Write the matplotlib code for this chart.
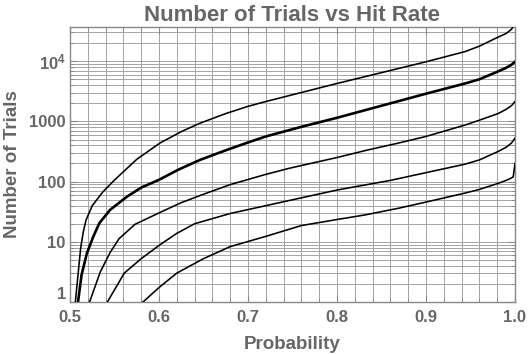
import matplotlib
matplotlib.use("Agg")
import matplotlib.pyplot as plt
from matplotlib.ticker import FixedLocator, FixedFormatter, NullFormatter
import numpy as np

# ---- data (p, log10 of number of trials) ----
p1 = [0.506, 0.509, 0.512, 0.515, 0.518, 0.525, 0.537, 0.551, 0.575, 0.601, 0.625, 0.646, 0.675,
      0.700, 0.720, 0.760, 0.800, 0.850, 0.900, 0.944, 0.960, 0.981, 0.990, 0.996, 1.0]
l1 = [0.00, 0.45, 0.90, 1.17, 1.36, 1.60, 1.83, 2.04, 2.37, 2.64, 2.83, 2.97, 3.13,
      3.25, 3.33, 3.48, 3.63, 3.81, 3.99, 4.16, 4.25, 4.40, 4.46, 4.53, 4.62]

p2 = [0.509, 0.513, 0.519, 0.526, 0.533, 0.545, 0.564, 0.580, 0.600, 0.622, 0.646, 0.675, 0.700,
      0.720, 0.760, 0.800, 0.850, 0.900, 0.944, 0.960, 0.981, 0.990, 0.996, 1.0]
l2 = [0.00, 0.45, 0.81, 1.08, 1.31, 1.53, 1.75, 1.90, 2.03, 2.20, 2.36, 2.52, 2.65,
      2.75, 2.91, 3.06, 3.26, 3.46, 3.63, 3.70, 3.83, 3.89, 3.94, 3.99]

p3 = [0.522, 0.534, 0.545, 0.555, 0.573, 0.600, 0.625, 0.650, 0.680, 0.720, 0.746, 0.800, 0.833,
      0.869, 0.900, 0.944, 0.960, 0.981, 0.990, 0.996, 1.0]
l3 = [0.00, 0.50, 0.82, 1.05, 1.29, 1.48, 1.65, 1.79, 1.95, 2.12, 2.22, 2.40, 2.52,
      2.64, 2.75, 2.94, 3.02, 3.13, 3.20, 3.26, 3.33]

p4 = [0.542, 0.561, 0.580, 0.601, 0.620, 0.640, 0.680, 0.720, 0.746, 0.800, 0.860, 0.888, 0.944,
      0.960, 0.981, 0.990, 0.996, 1.0]
l4 = [0.00, 0.48, 0.72, 0.95, 1.14, 1.30, 1.47, 1.60, 1.685, 1.86, 2.02, 2.11, 2.29,
      2.36, 2.50, 2.57, 2.64, 2.72]

p5 = [0.582, 0.600, 0.620, 0.650, 0.680, 0.720, 0.760, 0.800, 0.831, 0.870, 0.900, 0.944, 0.960,
      0.981, 0.990, 0.996, 0.998, 1.0]
l5 = [0.00, 0.24, 0.48, 0.72, 0.92, 1.09, 1.27, 1.37, 1.445, 1.56, 1.66, 1.81, 1.87,
      1.97, 2.02, 2.06, 2.08, 2.30]

x_ticks = [0.5, 0.6, 0.7, 0.8, 0.9, 1.0]
x_ticklabels = ["0.5", "0.6", "0.7", "0.8", "0.9", "1.0"]
y_ticks = [1, 10, 100, 1000, 10000]
y_ticklabels = ["1", "10", "100", "1000", r"$\mathbf{10^4}$"]

title = "Number of Trials vs Hit Rate"
xlabel = "Probability"
ylabel = "Number of Trials"

# ---- style ----
plt.rcParams["font.family"] = ["Liberation Sans", "DejaVu Sans"]
plt.rcParams["mathtext.fontset"] = "custom"
plt.rcParams["mathtext.rm"] = "Liberation Sans"
plt.rcParams["mathtext.bf"] = "Liberation Sans:bold"

txt = "#666666"
fig = plt.figure(figsize=(5.30, 3.54), dpi=100)
ax = fig.add_axes([70 / 530, 1 - 302 / 354, 445 / 530, 275 / 354])

ax.set_yscale("log")
ax.set_xlim(0.5, 1.0)
ax.set_ylim(1, 10 ** 4.568)

# grid
grid_c = "#a4a4a4"
for xv in np.arange(0.52, 1.0, 0.02):
    ax.axvline(xv, color=grid_c, lw=0.7, zorder=1)
for dec in [1, 10, 100, 1000, 10000]:
    for m in range(1, 10):
        v = dec * m
        if 1 < v < 10 ** 4.568:
            ax.axhline(v, color=grid_c, lw=0.7, zorder=1)

for p, l, lw in [(p1, l1, 1.15), (p2, l2, 1.9), (p3, l3, 1.15), (p4, l4, 1.15), (p5, l5, 1.15)]:
    ax.plot(p, np.power(10.0, l), color="black", lw=lw, zorder=3, solid_joinstyle="round")

ax.xaxis.set_major_locator(FixedLocator(x_ticks))
ax.xaxis.set_major_formatter(FixedFormatter(x_ticklabels))
ax.xaxis.set_minor_locator(FixedLocator(list(np.arange(0.52, 1.0, 0.02))))
ax.xaxis.set_minor_formatter(NullFormatter())
ax.yaxis.set_major_locator(FixedLocator(y_ticks))
ax.yaxis.set_major_formatter(FixedFormatter(y_ticklabels))
minors = [d * m for d in [1, 10, 100, 1000, 10000] for m in range(2, 10)]
ax.yaxis.set_minor_locator(FixedLocator(minors))
ax.yaxis.set_minor_formatter(NullFormatter())

ax.tick_params(which="both", direction="in", top=True, right=True, color="#888888")
ax.tick_params(which="major", length=5, width=0.8, labelsize=12, labelcolor=txt)
ax.tick_params(axis="x", which="major", pad=6)
ax.tick_params(axis="y", which="major", pad=3)
ax.tick_params(which="minor", length=3, width=0.6)
for lab in ax.get_xticklabels() + ax.get_yticklabels():
    lab.set_fontweight("bold")
ax.get_yticklabels()[0].set_verticalalignment("bottom")
for s in ax.spines.values():
    s.set_color("#888888")
    s.set_linewidth(1.0)

ax.set_title(title, fontsize=16, fontweight="bold", color=txt, pad=4)
ax.set_xlabel(xlabel, fontsize=13.5, fontweight="bold", color=txt, labelpad=8)
ax.set_ylabel(ylabel, fontsize=13.5, fontweight="bold", color=txt, labelpad=6)

fig.savefig("out.png", dpi=100)
